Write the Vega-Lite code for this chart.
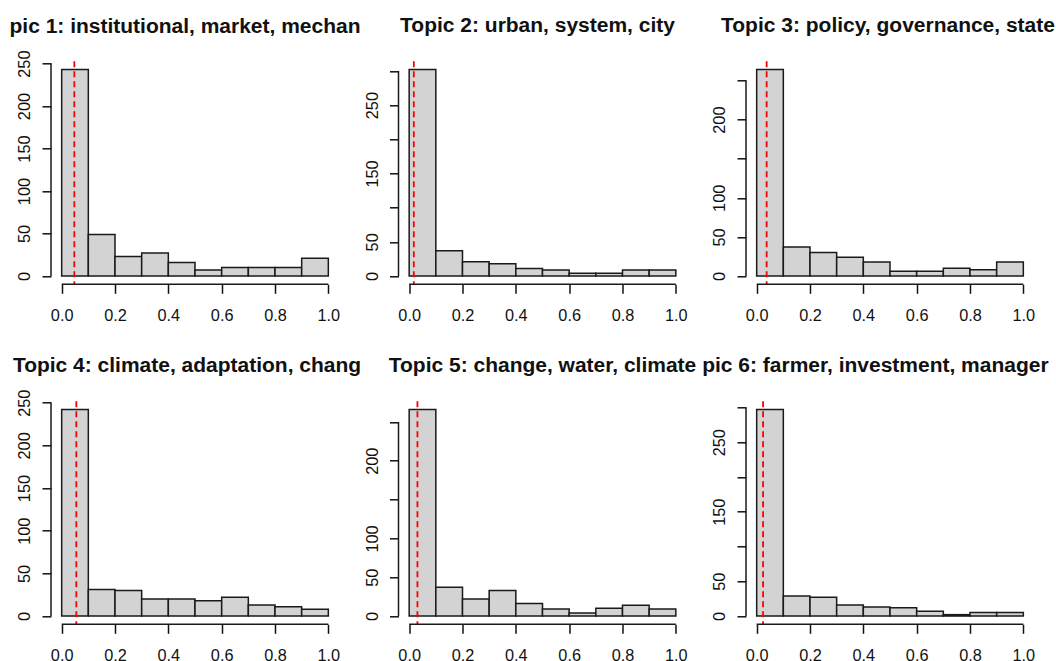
{
  "$schema": "https://vega.github.io/schema/vega-lite/v6.json",
  "autosize": {"type": "pad"},
  "padding": {"left": 9, "top": 15.3, "right": 0, "bottom": -3.5},
  "background": "white",
  "bounds": "flush",
  "columns": 3,
  "spacing": {"row": 117, "column": 59.5},
  "datasets": {
    "hist": [
      {"topic": 1, "from": 0.0, "to": 0.1, "count": 243}, {"topic": 1, "from": 0.1, "to": 0.2, "count": 49}, {"topic": 1, "from": 0.2, "to": 0.3, "count": 23}, {"topic": 1, "from": 0.3, "to": 0.4, "count": 27}, {"topic": 1, "from": 0.4, "to": 0.5, "count": 16}, {"topic": 1, "from": 0.5, "to": 0.6, "count": 7}, {"topic": 1, "from": 0.6, "to": 0.7, "count": 10}, {"topic": 1, "from": 0.7, "to": 0.8, "count": 10}, {"topic": 1, "from": 0.8, "to": 0.9, "count": 10}, {"topic": 1, "from": 0.9, "to": 1.0, "count": 21},
      {"topic": 2, "from": 0.0, "to": 0.1, "count": 302}, {"topic": 2, "from": 0.1, "to": 0.2, "count": 37}, {"topic": 2, "from": 0.2, "to": 0.3, "count": 21}, {"topic": 2, "from": 0.3, "to": 0.4, "count": 18}, {"topic": 2, "from": 0.4, "to": 0.5, "count": 11}, {"topic": 2, "from": 0.5, "to": 0.6, "count": 9}, {"topic": 2, "from": 0.6, "to": 0.7, "count": 4}, {"topic": 2, "from": 0.7, "to": 0.8, "count": 4}, {"topic": 2, "from": 0.8, "to": 0.9, "count": 9}, {"topic": 2, "from": 0.9, "to": 1.0, "count": 9},
      {"topic": 3, "from": 0.0, "to": 0.1, "count": 264}, {"topic": 3, "from": 0.1, "to": 0.2, "count": 37}, {"topic": 3, "from": 0.2, "to": 0.3, "count": 30}, {"topic": 3, "from": 0.3, "to": 0.4, "count": 24}, {"topic": 3, "from": 0.4, "to": 0.5, "count": 18}, {"topic": 3, "from": 0.5, "to": 0.6, "count": 6}, {"topic": 3, "from": 0.6, "to": 0.7, "count": 6}, {"topic": 3, "from": 0.7, "to": 0.8, "count": 10}, {"topic": 3, "from": 0.8, "to": 0.9, "count": 8}, {"topic": 3, "from": 0.9, "to": 1.0, "count": 18},
      {"topic": 4, "from": 0.0, "to": 0.1, "count": 242}, {"topic": 4, "from": 0.1, "to": 0.2, "count": 31}, {"topic": 4, "from": 0.2, "to": 0.3, "count": 30}, {"topic": 4, "from": 0.3, "to": 0.4, "count": 20}, {"topic": 4, "from": 0.4, "to": 0.5, "count": 20}, {"topic": 4, "from": 0.5, "to": 0.6, "count": 18}, {"topic": 4, "from": 0.6, "to": 0.7, "count": 22}, {"topic": 4, "from": 0.7, "to": 0.8, "count": 13}, {"topic": 4, "from": 0.8, "to": 0.9, "count": 11}, {"topic": 4, "from": 0.9, "to": 1.0, "count": 8},
      {"topic": 5, "from": 0.0, "to": 0.1, "count": 266}, {"topic": 5, "from": 0.1, "to": 0.2, "count": 37}, {"topic": 5, "from": 0.2, "to": 0.3, "count": 22}, {"topic": 5, "from": 0.3, "to": 0.4, "count": 33}, {"topic": 5, "from": 0.4, "to": 0.5, "count": 16}, {"topic": 5, "from": 0.5, "to": 0.6, "count": 9}, {"topic": 5, "from": 0.6, "to": 0.7, "count": 4}, {"topic": 5, "from": 0.7, "to": 0.8, "count": 10}, {"topic": 5, "from": 0.8, "to": 0.9, "count": 14}, {"topic": 5, "from": 0.9, "to": 1.0, "count": 9},
      {"topic": 6, "from": 0.0, "to": 0.1, "count": 297}, {"topic": 6, "from": 0.1, "to": 0.2, "count": 29}, {"topic": 6, "from": 0.2, "to": 0.3, "count": 27}, {"topic": 6, "from": 0.3, "to": 0.4, "count": 16}, {"topic": 6, "from": 0.4, "to": 0.5, "count": 13}, {"topic": 6, "from": 0.5, "to": 0.6, "count": 12}, {"topic": 6, "from": 0.6, "to": 0.7, "count": 7}, {"topic": 6, "from": 0.7, "to": 0.8, "count": 2}, {"topic": 6, "from": 0.8, "to": 0.9, "count": 5}, {"topic": 6, "from": 0.9, "to": 1.0, "count": 5}
    ],
    "ref": [
      {"topic": 1, "cut": 0.0475}, {"topic": 2, "cut": 0.0175}, {"topic": 3, "cut": 0.0375},
      {"topic": 4, "cut": 0.055}, {"topic": 5, "cut": 0.031}, {"topic": 6, "cut": 0.024}
    ]
  },
  "config": {
    "font": "Liberation Sans",
    "view": {"stroke": null},
    "axis": {
      "domain": false, "grid": false, "ticks": true, "tickColor": "#111111", "tickWidth": 1.5, "tickSize": 9, "tickCount": 20,
      "labelFont": "Liberation Sans", "labelFontSize": 16.3, "labelColor": "#111111",
      "labelOverlap": false, "labelFlush": false, "title": null
    },
    "title": {
      "font": "Liberation Sans", "fontSize": 21, "fontWeight": "bold", "color": "#111111",
      "anchor": "middle", "frame": "group", "baseline": "alphabetic", "offset": 24
    }
  },
  "concat": [
    {
      "width": 288, "height": 223,
      "title": {"text": "pic 1: institutional, market, mechan", "dx": -10, "offset": 13.3},
      "layer": [
        {"data": {"name": "hist"}, "transform": [{"filter": "datum.topic == 1"}],
         "mark": {"type": "bar", "fill": "#d3d3d3", "stroke": "#1a1a1a", "strokeWidth": 1.5},
         "encoding": {
           "x": {"field": "from", "type": "quantitative", "scale": {"domain": [-0.04, 1.04], "nice": false},
                 "axis": {"values": [0, 0.2, 0.4, 0.6, 0.8, 1], "format": ".1f", "labelPadding": 14, "labelAngle": 0}},
           "x2": {"field": "to"},
           "y": {"field": "count", "type": "quantitative", "scale": {"domain": [-9.72, 252.72], "nice": false},
                 "axis": {"values": [0, 50, 100, 150, 200, 250], "labelAngle": -90, "labelAlign": "center", "labelBaseline": "alphabetic", "labelPadding": 12.5}},
           "y2": {"datum": 0}
         }},
        {"data": {"name": "ref"}, "transform": [{"filter": "datum.topic == 1"}],
         "mark": {"type": "rule", "color": "#ff0000", "strokeDash": [6, 4], "strokeWidth": 1.8},
         "encoding": {"x": {"field": "cut", "type": "quantitative", "scale": {"domain": [-0.04, 1.04], "nice": false}}}},
        {"data": {"values": [{}]}, "mark": {"type": "rule", "color": "#1a1a1a", "strokeWidth": 1.5},
         "encoding": {"x": {"datum": 0, "type": "quantitative", "scale": {"domain": [-0.04, 1.04], "nice": false}}, "x2": {"datum": 1},
                      "y": {"datum": -9.72, "type": "quantitative", "scale": {"domain": [-9.72, 252.72], "nice": false}}}},
        {"data": {"values": [{}]}, "mark": {"type": "rule", "color": "#1a1a1a", "strokeWidth": 1.5},
         "encoding": {"x": {"datum": -0.04, "type": "quantitative", "scale": {"domain": [-0.04, 1.04], "nice": false}},
                      "y": {"datum": 0, "type": "quantitative", "scale": {"domain": [-9.72, 252.72], "nice": false}}, "y2": {"datum": 250}}}
      ]
    },
    {
      "width": 288, "height": 223,
      "title": {"text": "Topic 2: urban, system, city", "dx": -5},
      "layer": [
        {"data": {"name": "hist"}, "transform": [{"filter": "datum.topic == 2"}],
         "mark": {"type": "bar", "fill": "#d3d3d3", "stroke": "#1a1a1a", "strokeWidth": 1.5},
         "encoding": {
           "x": {"field": "from", "type": "quantitative", "scale": {"domain": [-0.04, 1.04], "nice": false},
                 "axis": {"values": [0, 0.2, 0.4, 0.6, 0.8, 1], "format": ".1f", "labelPadding": 14, "labelAngle": 0}},
           "x2": {"field": "to"},
           "y": {"field": "count", "type": "quantitative", "scale": {"domain": [-12.08, 314.08], "nice": false},
                 "axis": {"values": [0, 50, 100, 150, 200, 250, 300], "labelExpr": "indexof([0, 50, 150, 250], datum.value) >= 0 ? datum.label : ''", "labelAngle": -90, "labelAlign": "center", "labelBaseline": "alphabetic", "labelPadding": 12.5}},
           "y2": {"datum": 0}
         }},
        {"data": {"name": "ref"}, "transform": [{"filter": "datum.topic == 2"}],
         "mark": {"type": "rule", "color": "#ff0000", "strokeDash": [6, 4], "strokeWidth": 1.8},
         "encoding": {"x": {"field": "cut", "type": "quantitative", "scale": {"domain": [-0.04, 1.04], "nice": false}}}},
        {"data": {"values": [{}]}, "mark": {"type": "rule", "color": "#1a1a1a", "strokeWidth": 1.5},
         "encoding": {"x": {"datum": 0, "type": "quantitative", "scale": {"domain": [-0.04, 1.04], "nice": false}}, "x2": {"datum": 1},
                      "y": {"datum": -12.08, "type": "quantitative", "scale": {"domain": [-12.08, 314.08], "nice": false}}}},
        {"data": {"values": [{}]}, "mark": {"type": "rule", "color": "#1a1a1a", "strokeWidth": 1.5},
         "encoding": {"x": {"datum": -0.04, "type": "quantitative", "scale": {"domain": [-0.04, 1.04], "nice": false}},
                      "y": {"datum": 0, "type": "quantitative", "scale": {"domain": [-12.08, 314.08], "nice": false}}, "y2": {"datum": 300}}}
      ]
    },
    {
      "width": 288, "height": 223,
      "title": {"text": "Topic 3: policy, governance, state", "dx": -2},
      "layer": [
        {"data": {"name": "hist"}, "transform": [{"filter": "datum.topic == 3"}],
         "mark": {"type": "bar", "fill": "#d3d3d3", "stroke": "#1a1a1a", "strokeWidth": 1.5},
         "encoding": {
           "x": {"field": "from", "type": "quantitative", "scale": {"domain": [-0.04, 1.04], "nice": false},
                 "axis": {"values": [0, 0.2, 0.4, 0.6, 0.8, 1], "format": ".1f", "labelPadding": 14, "labelAngle": 0}},
           "x2": {"field": "to"},
           "y": {"field": "count", "type": "quantitative", "scale": {"domain": [-10.56, 274.56], "nice": false},
                 "axis": {"values": [0, 50, 100, 150, 200, 250], "labelExpr": "indexof([0, 50, 100, 200], datum.value) >= 0 ? datum.label : ''", "labelAngle": -90, "labelAlign": "center", "labelBaseline": "alphabetic", "labelPadding": 12.5}},
           "y2": {"datum": 0}
         }},
        {"data": {"name": "ref"}, "transform": [{"filter": "datum.topic == 3"}],
         "mark": {"type": "rule", "color": "#ff0000", "strokeDash": [6, 4], "strokeWidth": 1.8},
         "encoding": {"x": {"field": "cut", "type": "quantitative", "scale": {"domain": [-0.04, 1.04], "nice": false}}}},
        {"data": {"values": [{}]}, "mark": {"type": "rule", "color": "#1a1a1a", "strokeWidth": 1.5},
         "encoding": {"x": {"datum": 0, "type": "quantitative", "scale": {"domain": [-0.04, 1.04], "nice": false}}, "x2": {"datum": 1},
                      "y": {"datum": -10.56, "type": "quantitative", "scale": {"domain": [-10.56, 274.56], "nice": false}}}},
        {"data": {"values": [{}]}, "mark": {"type": "rule", "color": "#1a1a1a", "strokeWidth": 1.5},
         "encoding": {"x": {"datum": -0.04, "type": "quantitative", "scale": {"domain": [-0.04, 1.04], "nice": false}},
                      "y": {"datum": 0, "type": "quantitative", "scale": {"domain": [-10.56, 274.56], "nice": false}}, "y2": {"datum": 250}}}
      ]
    },
    {
      "width": 288, "height": 223,
      "title": {"text": "Topic 4: climate, adaptation, chang", "dx": -8, "offset": 13.3},
      "layer": [
        {"data": {"name": "hist"}, "transform": [{"filter": "datum.topic == 4"}],
         "mark": {"type": "bar", "fill": "#d3d3d3", "stroke": "#1a1a1a", "strokeWidth": 1.5},
         "encoding": {
           "x": {"field": "from", "type": "quantitative", "scale": {"domain": [-0.04, 1.04], "nice": false},
                 "axis": {"values": [0, 0.2, 0.4, 0.6, 0.8, 1], "format": ".1f", "labelPadding": 14, "labelAngle": 0}},
           "x2": {"field": "to"},
           "y": {"field": "count", "type": "quantitative", "scale": {"domain": [-9.68, 251.68], "nice": false},
                 "axis": {"values": [0, 50, 100, 150, 200, 250], "labelAngle": -90, "labelAlign": "center", "labelBaseline": "alphabetic", "labelPadding": 12.5}},
           "y2": {"datum": 0}
         }},
        {"data": {"name": "ref"}, "transform": [{"filter": "datum.topic == 4"}],
         "mark": {"type": "rule", "color": "#ff0000", "strokeDash": [6, 4], "strokeWidth": 1.8},
         "encoding": {"x": {"field": "cut", "type": "quantitative", "scale": {"domain": [-0.04, 1.04], "nice": false}}}},
        {"data": {"values": [{}]}, "mark": {"type": "rule", "color": "#1a1a1a", "strokeWidth": 1.5},
         "encoding": {"x": {"datum": 0, "type": "quantitative", "scale": {"domain": [-0.04, 1.04], "nice": false}}, "x2": {"datum": 1},
                      "y": {"datum": -9.68, "type": "quantitative", "scale": {"domain": [-9.68, 251.68], "nice": false}}}},
        {"data": {"values": [{}]}, "mark": {"type": "rule", "color": "#1a1a1a", "strokeWidth": 1.5},
         "encoding": {"x": {"datum": -0.04, "type": "quantitative", "scale": {"domain": [-0.04, 1.04], "nice": false}},
                      "y": {"datum": 0, "type": "quantitative", "scale": {"domain": [-9.68, 251.68], "nice": false}}, "y2": {"datum": 250}}}
      ]
    },
    {
      "width": 288, "height": 223,
      "title": {"text": "Topic 5: change, water, climate", "dx": 0},
      "layer": [
        {"data": {"name": "hist"}, "transform": [{"filter": "datum.topic == 5"}],
         "mark": {"type": "bar", "fill": "#d3d3d3", "stroke": "#1a1a1a", "strokeWidth": 1.5},
         "encoding": {
           "x": {"field": "from", "type": "quantitative", "scale": {"domain": [-0.04, 1.04], "nice": false},
                 "axis": {"values": [0, 0.2, 0.4, 0.6, 0.8, 1], "format": ".1f", "labelPadding": 14, "labelAngle": 0}},
           "x2": {"field": "to"},
           "y": {"field": "count", "type": "quantitative", "scale": {"domain": [-10.64, 276.64], "nice": false},
                 "axis": {"values": [0, 50, 100, 150, 200, 250], "labelExpr": "indexof([0, 50, 100, 200], datum.value) >= 0 ? datum.label : ''", "labelAngle": -90, "labelAlign": "center", "labelBaseline": "alphabetic", "labelPadding": 12.5}},
           "y2": {"datum": 0}
         }},
        {"data": {"name": "ref"}, "transform": [{"filter": "datum.topic == 5"}],
         "mark": {"type": "rule", "color": "#ff0000", "strokeDash": [6, 4], "strokeWidth": 1.8},
         "encoding": {"x": {"field": "cut", "type": "quantitative", "scale": {"domain": [-0.04, 1.04], "nice": false}}}},
        {"data": {"values": [{}]}, "mark": {"type": "rule", "color": "#1a1a1a", "strokeWidth": 1.5},
         "encoding": {"x": {"datum": 0, "type": "quantitative", "scale": {"domain": [-0.04, 1.04], "nice": false}}, "x2": {"datum": 1},
                      "y": {"datum": -10.64, "type": "quantitative", "scale": {"domain": [-10.64, 276.64], "nice": false}}}},
        {"data": {"values": [{}]}, "mark": {"type": "rule", "color": "#1a1a1a", "strokeWidth": 1.5},
         "encoding": {"x": {"datum": -0.04, "type": "quantitative", "scale": {"domain": [-0.04, 1.04], "nice": false}},
                      "y": {"datum": 0, "type": "quantitative", "scale": {"domain": [-10.64, 276.64], "nice": false}}, "y2": {"datum": 250}}}
      ]
    },
    {
      "width": 288, "height": 223,
      "title": {"text": "pic 6: farmer, investment, manager", "dx": -14.6},
      "layer": [
        {"data": {"name": "hist"}, "transform": [{"filter": "datum.topic == 6"}],
         "mark": {"type": "bar", "fill": "#d3d3d3", "stroke": "#1a1a1a", "strokeWidth": 1.5},
         "encoding": {
           "x": {"field": "from", "type": "quantitative", "scale": {"domain": [-0.04, 1.04], "nice": false},
                 "axis": {"values": [0, 0.2, 0.4, 0.6, 0.8, 1], "format": ".1f", "labelPadding": 14, "labelAngle": 0}},
           "x2": {"field": "to"},
           "y": {"field": "count", "type": "quantitative", "scale": {"domain": [-11.88, 308.88], "nice": false},
                 "axis": {"values": [0, 50, 100, 150, 200, 250, 300], "labelExpr": "indexof([0, 50, 150, 250], datum.value) >= 0 ? datum.label : ''", "labelAngle": -90, "labelAlign": "center", "labelBaseline": "alphabetic", "labelPadding": 12.5}},
           "y2": {"datum": 0}
         }},
        {"data": {"name": "ref"}, "transform": [{"filter": "datum.topic == 6"}],
         "mark": {"type": "rule", "color": "#ff0000", "strokeDash": [6, 4], "strokeWidth": 1.8},
         "encoding": {"x": {"field": "cut", "type": "quantitative", "scale": {"domain": [-0.04, 1.04], "nice": false}}}},
        {"data": {"values": [{}]}, "mark": {"type": "rule", "color": "#1a1a1a", "strokeWidth": 1.5},
         "encoding": {"x": {"datum": 0, "type": "quantitative", "scale": {"domain": [-0.04, 1.04], "nice": false}}, "x2": {"datum": 1},
                      "y": {"datum": -11.88, "type": "quantitative", "scale": {"domain": [-11.88, 308.88], "nice": false}}}},
        {"data": {"values": [{}]}, "mark": {"type": "rule", "color": "#1a1a1a", "strokeWidth": 1.5},
         "encoding": {"x": {"datum": -0.04, "type": "quantitative", "scale": {"domain": [-0.04, 1.04], "nice": false}},
                      "y": {"datum": 0, "type": "quantitative", "scale": {"domain": [-11.88, 308.88], "nice": false}}, "y2": {"datum": 300}}}
      ]
    }
  ]
}
